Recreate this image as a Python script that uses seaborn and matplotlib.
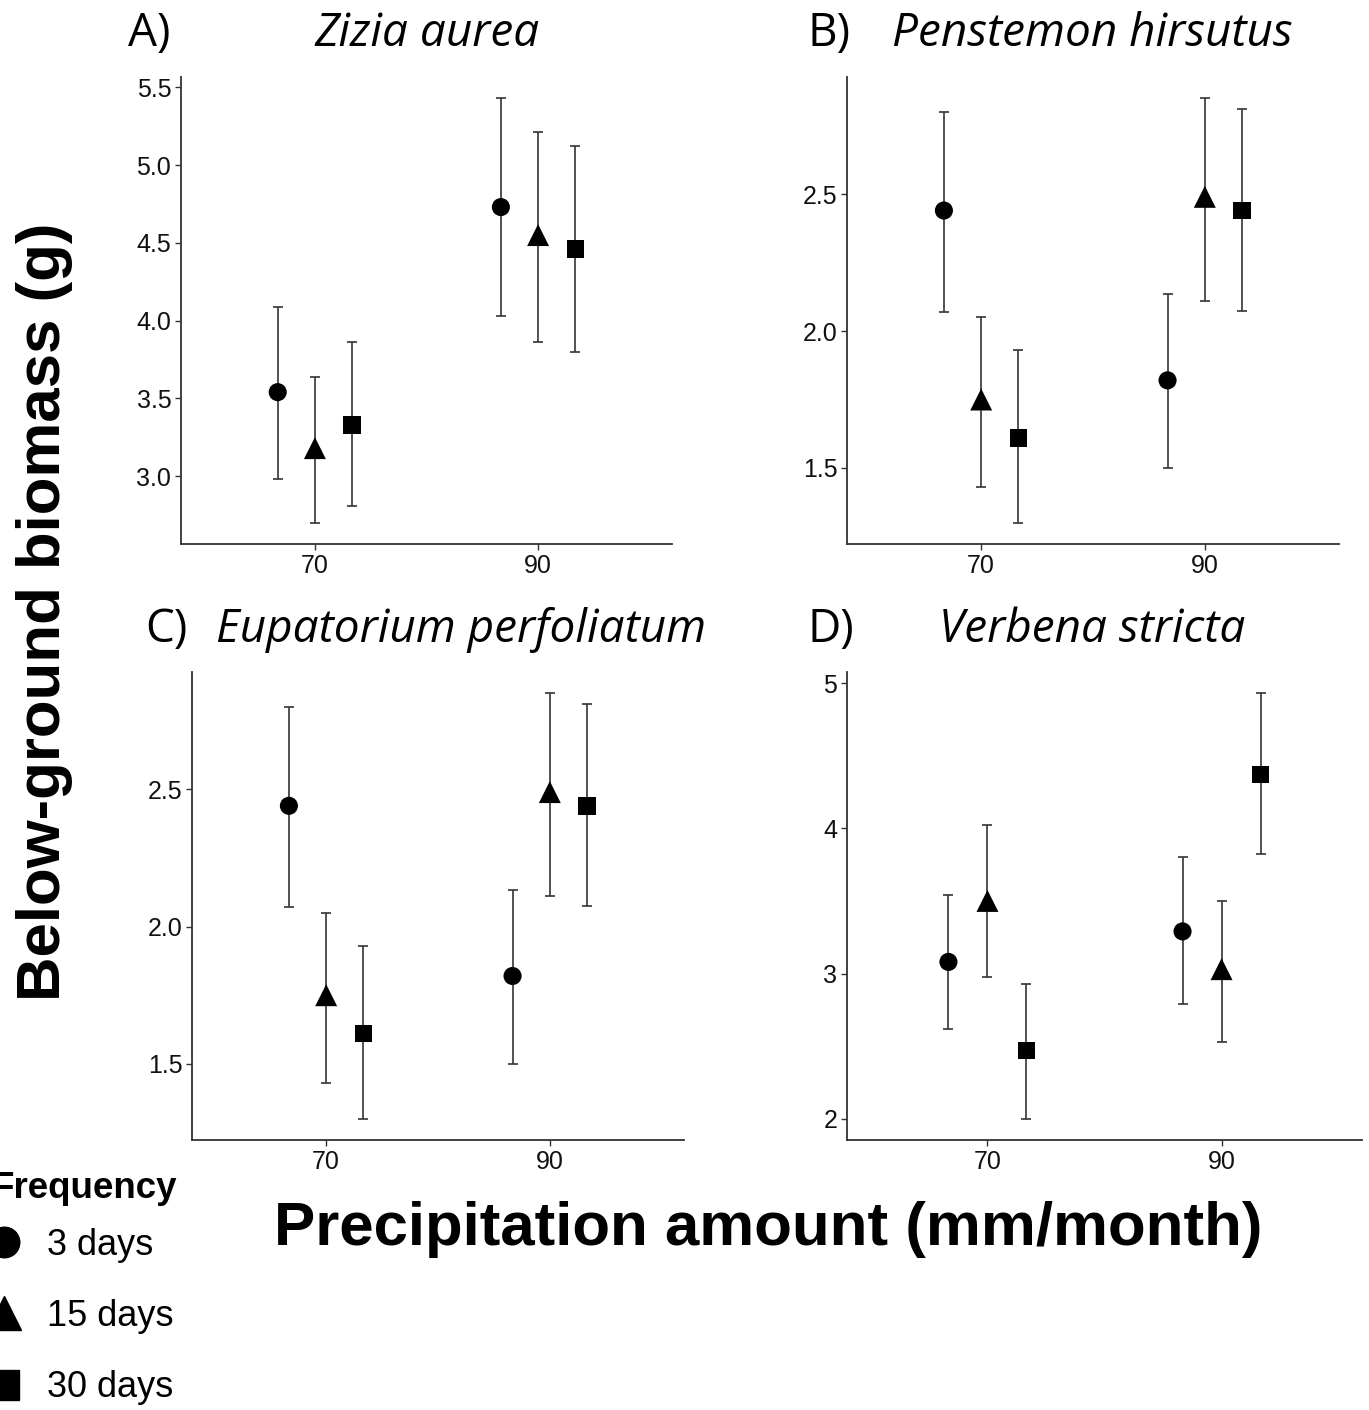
import matplotlib
matplotlib.use("Agg")
import matplotlib.pyplot as plt
import seaborn as sns
import pandas as pd
from matplotlib.lines import Line2D

# ---------------- data ----------------
precip_levels = ["70", "90"]
freq_levels = ["3 days", "15 days", "30 days"]

species = ["Zizia aurea", "Penstemon hirsutus", "Eupatorium perfoliatum", "Verbena stricta"]
panel_tags = ["A)", "B)", "C)", "D)"]

# values ordered [precip 70: 3d, 15d, 30d, precip 90: 3d, 15d, 30d]
zizia_mean = [3.54, 3.18, 3.33, 4.73, 4.55, 4.46]
zizia_lo = [2.98, 2.70, 2.81, 4.03, 3.86, 3.80]
zizia_hi = [4.09, 3.64, 3.86, 5.43, 5.21, 5.12]

penst_mean = [2.44, 1.75, 1.61, 1.82, 2.49, 2.44]
penst_lo = [2.07, 1.43, 1.30, 1.50, 2.11, 2.075]
penst_hi = [2.80, 2.05, 1.93, 2.135, 2.85, 2.81]

eupat_mean = [2.44, 1.75, 1.61, 1.82, 2.49, 2.44]
eupat_lo = [2.07, 1.43, 1.30, 1.50, 2.11, 2.075]
eupat_hi = [2.80, 2.05, 1.93, 2.135, 2.85, 2.81]

verb_mean = [3.08, 3.50, 2.47, 3.29, 3.03, 4.37]
verb_lo = [2.62, 2.975, 2.00, 2.79, 2.53, 3.825]
verb_hi = [3.54, 4.02, 2.93, 3.80, 3.50, 4.93]

means = [zizia_mean, penst_mean, eupat_mean, verb_mean]
lows = [zizia_lo, penst_lo, eupat_lo, verb_lo]
highs = [zizia_hi, penst_hi, eupat_hi, verb_hi]

y_ticks = [[3.0, 3.5, 4.0, 4.5, 5.0, 5.5], [1.5, 2.0, 2.5], [1.5, 2.0, 2.5], [2, 3, 4, 5]]
y_ticklabels = [["3.0", "3.5", "4.0", "4.5", "5.0", "5.5"], ["1.5", "2.0", "2.5"],
                ["1.5", "2.0", "2.5"], ["2", "3", "4", "5"]]

legend_title = "Frequency"

# ---------------- style ----------------
sns.set_style("ticks")
plt.rcParams["font.family"] = ["Liberation Sans", "DejaVu Sans"]
plt.rcParams["text.color"] = "black"

W, H = 1369, 1410
fig = plt.figure(figsize=(W / 100, H / 100), dpi=100)


def fx(px):
    return px / W


def fy(py):
    return 1 - py / H


# axes boxes in pixels: left, top, right, bottom
boxes = [(181, 77, 672, 544), (847, 77, 1339, 544), (192, 672, 684, 1140), (847, 672, 1362, 1140)]

marker_map = {"3 days": "o", "15 days": "^", "30 days": "s"}
size_map = {"3 days": 170, "15 days": 250, "30 days": 160}
dodge = {"3 days": -1 / 6, "15 days": 0.0, "30 days": 1 / 6}

for i in range(4):
    l, t, r, b = boxes[i]
    ax = fig.add_axes([fx(l), fy(b), fx(r - l), (b - t) / H])
    df = pd.DataFrame({
        "precip": [p for p in precip_levels for _ in freq_levels],
        "freq": freq_levels * len(precip_levels),
        "mean": means[i],
        "lo": lows[i],
        "hi": highs[i],
    })
    df["x"] = df["precip"].map({p: k for k, p in enumerate(precip_levels)}) + df["freq"].map(dodge)

    ax.errorbar(df["x"], df["mean"], yerr=[df["mean"] - df["lo"], df["hi"] - df["mean"]],
                fmt="none", ecolor="#333333", elinewidth=1.2, capsize=3.6, capthick=1.2, zorder=1)
    sns.scatterplot(data=df, x="x", y="mean", style="freq", markers=marker_map,
                    size="freq", sizes=size_map, color="black", edgecolor="black",
                    linewidth=0, legend=False, ax=ax, zorder=3)

    lo_all, hi_all = min(lows[i]), max(highs[i])
    pad = (hi_all - lo_all) * 0.05
    ax.set_ylim(lo_all - pad, hi_all + pad)
    ax.set_xlim(-0.6, 1.6)
    ax.set_xticks([0, 1])
    ax.set_xticklabels(precip_levels)
    ax.set_yticks(y_ticks[i])
    ax.set_yticklabels(y_ticklabels[i])
    ax.set_xlabel("")
    ax.set_ylabel("")
    sns.despine(ax=ax)
    for s in ["left", "bottom"]:
        ax.spines[s].set_color("#333333")
        ax.spines[s].set_linewidth(1.3)
    ax.tick_params(axis="both", length=4, width=1.0, color="#333333",
                   labelsize=18, labelcolor="#111111", pad=3)

# panel titles
title_font = ["Open Sans", "Lato", "DejaVu Sans"]
title_pos = [(128, 427, 46), (808, 1092, 46), (145, 461, 642), (808, 1092, 642)]
for i in range(4):
    xt, xs, yb = title_pos[i]
    fig.text(fx(xt), fy(yb), panel_tags[i], ha="left", va="baseline", fontsize=33,
             family=title_font)
    fig.text(fx(xs), fy(yb), species[i], ha="center", va="baseline", fontsize=33,
             style="italic", family=title_font)

# axis labels
fig.text(fx(45), fy(612), "Below-ground biomass (g)", rotation=90, ha="center", va="center",
         fontsize=44.5, fontweight="bold")
fig.text(fx(768), fy(1230), "Precipitation amount (mm/month)", ha="center", va="center",
         fontsize=44.5, fontweight="bold")

# legend
fig.text(fx(-8), fy(1198), legend_title, ha="left", va="baseline", fontsize=26.5,
         fontweight="bold")
handles = [Line2D([], [], linestyle="none", marker=marker_map[f], color="black",
                  markersize={"3 days": 22, "15 days": 24, "30 days": 22}[f]) for f in freq_levels]
leg = fig.legend(handles, freq_levels, loc="upper left",
                 bbox_to_anchor=(fx(-11), fy(1228)), frameon=False, fontsize=26,
                 handlelength=0.85, handletextpad=0.75, labelspacing=1.0, borderpad=0,
                 borderaxespad=0)

fig.savefig("out.png", dpi=100)
